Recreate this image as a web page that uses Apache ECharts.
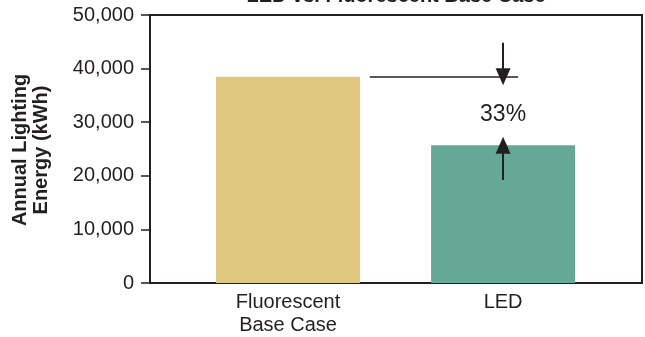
<!DOCTYPE html>
<html>
<head>
<meta charset="utf-8">
<script src="https://cdn.jsdelivr.net/npm/echarts@6/dist/echarts.min.js"></script>
<style>
html,body{margin:0;padding:0;background:#fff;}
#main{width:645px;height:337px;}
</style>
</head>
<body>
<div id="main"></div>
<script>
// ---- data ----
var categories = ['Fluorescent\nBase Case', 'LED'];
var energyValues = [38500, 25700];
var barColors = ['#dfc77f', '#66a896'];
var yTicks = [0, 10000, 20000, 30000, 40000, 50000];
var reductionLabel = '33%';
var titleText = 'LED vs. Fluorescent Base Case';
var yAxisTitle = 'Annual Lighting\nEnergy (kWh)';
// annotation anchors (in data units: x = category position, y = kWh)
var refLineX = [0.38, 1.07];
var downArrowStart = 44800;
var upArrowStart = 19200;
var pctLabelY = 31400;

var FONT = '"Liberation Sans", Arial, Helvetica, sans-serif';
var INK = '#231f20';

var chart = echarts.init(document.getElementById('main'), null, {renderer: 'canvas'});

var barData = energyValues.map(function (v, i) {
  return {value: [i, v], itemStyle: {color: barColors[i]}};
});

var option = {
  animation: false,
  backgroundColor: '#ffffff',
  textStyle: {fontFamily: FONT},
  grid: {
    left: 150, right: 3, top: 15, bottom: 53,
    show: true, borderColor: INK, borderWidth: 2, backgroundColor: 'transparent'
  },
  graphic: [
    {
      type: 'text', x: 396, y: 6,
      style: {text: titleText, font: 'bold 20px ' + FONT, fill: INK, textAlign: 'center', textVerticalAlign: 'bottom'}
    },
    {
      type: 'text', x: 31, y: 150, rotation: Math.PI / 2,
      style: {text: yAxisTitle, font: 'bold 20px ' + FONT, fill: INK, textAlign: 'center', textVerticalAlign: 'middle', lineHeight: 21}
    }
  ],
  xAxis: {
    type: 'value',
    min: -0.642, max: 1.646,
    axisLine: {show: false, onZero: false},
    axisTick: {show: false},
    splitLine: {show: false},
    axisLabel: {
      customValues: [0, 1],
      formatter: function (v) { return categories[Math.round(v)] || ''; },
      fontSize: 20, lineHeight: 23, color: INK, fontFamily: FONT, margin: 8,
      showMinLabel: true, showMaxLabel: true
    }
  },
  yAxis: {
    type: 'value',
    min: 0, max: 50000, interval: 10000,
    axisLine: {show: true, onZero: false, lineStyle: {color: INK, width: 2}},
    axisTick: {show: true, inside: false, length: 9, lineStyle: {color: INK, width: 1.5}},
    splitLine: {show: false},
    axisLabel: {
      fontSize: 20, color: INK, fontFamily: FONT, margin: 16,
      formatter: function (v) { return v.toLocaleString('en-US'); }
    }
  },
  series: [
    {
      type: 'bar',
      data: barData,
      barWidth: 144,
      markLine: {
        silent: true,
        animation: false,
        label: {show: false},
        symbol: ['none', 'none'],
        lineStyle: {color: INK, width: 1.6, type: 'solid'},
        data: [
          [
            {coord: [refLineX[0], energyValues[0]], symbol: 'none'},
            {coord: [refLineX[1], energyValues[0]], symbol: 'none'}
          ],
          [
            {coord: [1, downArrowStart], symbol: 'none', lineStyle: {width: 2}},
            {coord: [1, energyValues[0]], symbol: 'triangle', symbolSize: [15, 17]}
          ],
          [
            {coord: [1, upArrowStart], symbol: 'none', lineStyle: {width: 2}},
            {coord: [1, energyValues[1]], symbol: 'triangle', symbolSize: [15, 17]}
          ]
        ]
      },
      markPoint: {
        silent: true,
        symbol: 'circle',
        symbolSize: 0,
        data: [{
          coord: [1, pctLabelY],
          label: {show: true, position: 'inside', formatter: reductionLabel, fontSize: 23, color: INK, fontFamily: FONT}
        }]
      }
    }
  ]
};
chart.setOption(option);
</script>
</body>
</html>
